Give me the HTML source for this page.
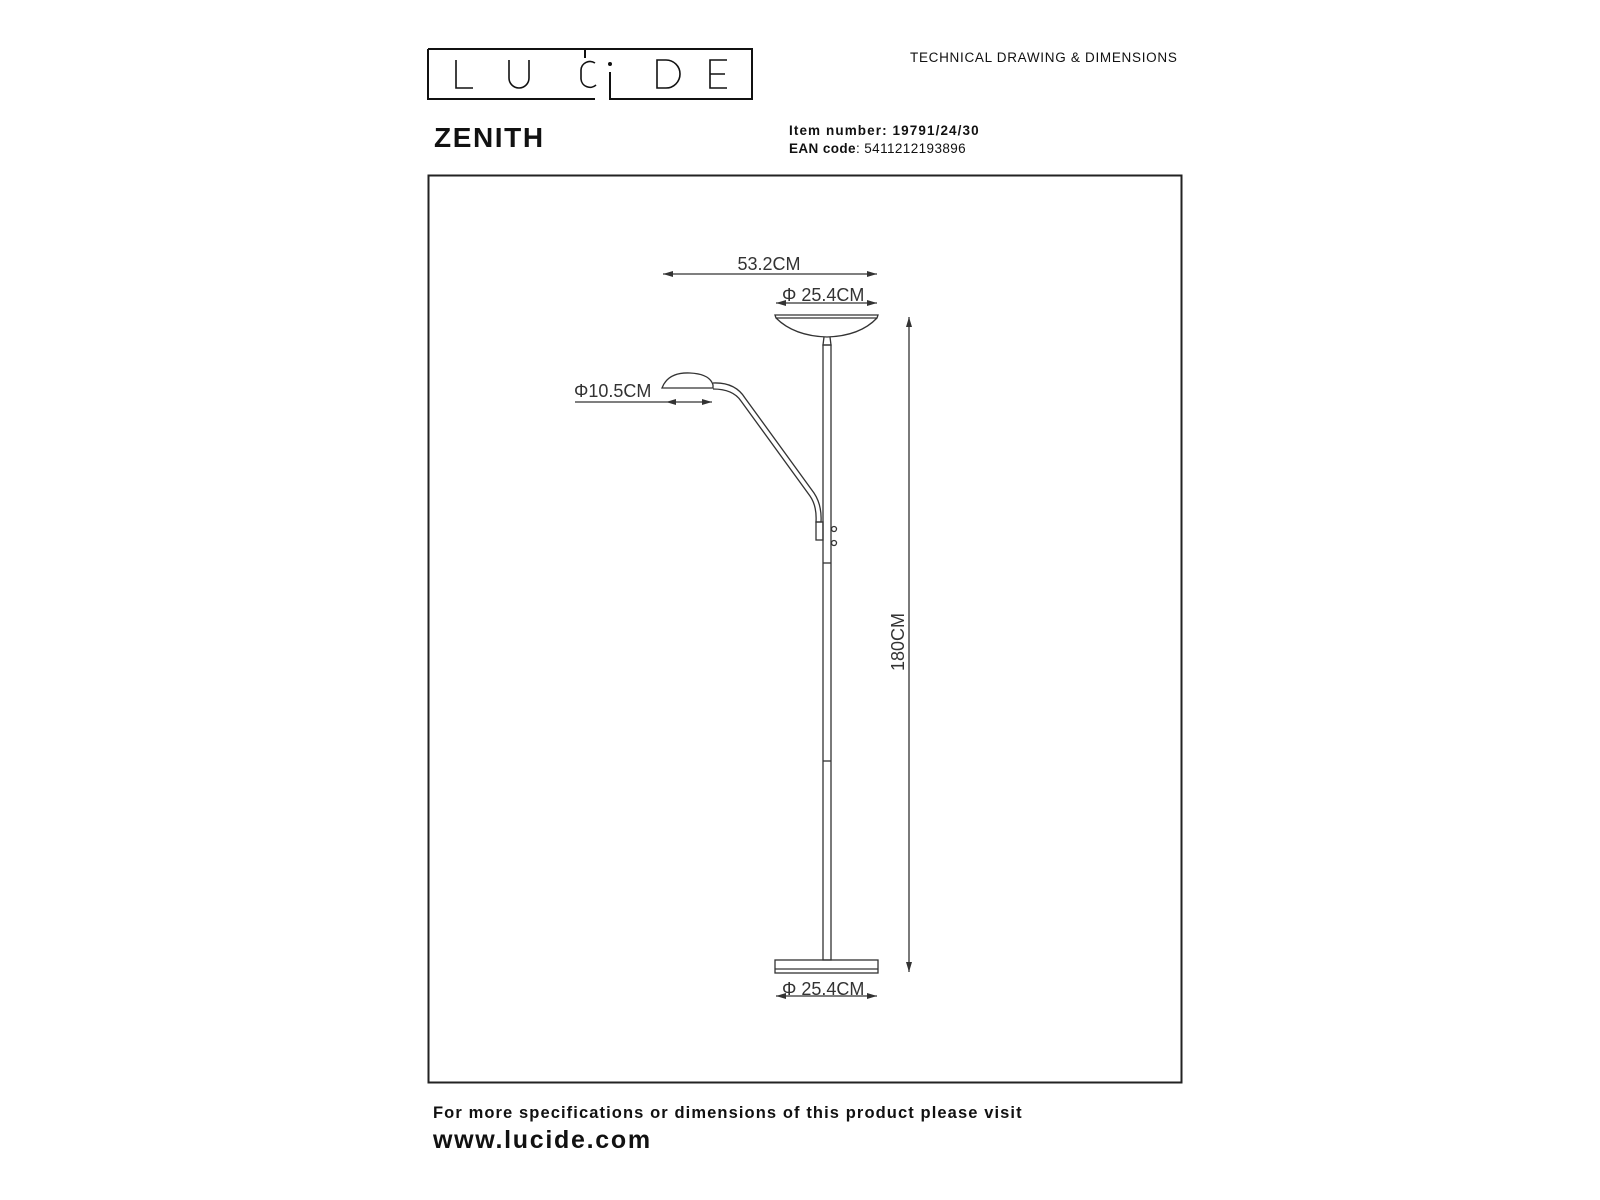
<!DOCTYPE html>
<html><head><meta charset="utf-8"><style>
body{margin:0;background:#fff;width:1600px;height:1200px;overflow:hidden;position:relative;font-family:"Liberation Sans",sans-serif;color:#111}
.t{position:absolute;white-space:nowrap}
</style></head><body>
<svg width="1600" height="1200" style="position:absolute;left:0;top:0" xmlns="http://www.w3.org/2000/svg">
<g fill="none" stroke="#111" stroke-width="2">
<path d="M428 49 H752 V99 H610 V72"/>
<path d="M595 99 H428 V49"/>
<path d="M585 49 V58"/>
</g>
<g fill="none" stroke="#111" stroke-width="1.6">
<path d="M456 60 V88 H473"/>
<path d="M509 60 V78 a10 10 0 0 0 20 0 V60"/>
<path d="M595 63 a9 9 0 0 0 -14 7 V79 a9 9 0 0 0 15 6"/>
<circle cx="610" cy="64" r="1.2" fill="#111"/>
<path d="M657 60 V88 H666 a14 14 0 0 0 0 -28 Z"/>
<path d="M727 60 H710 V88 H727 M710 74 H725"/>
</g>
<rect x="428.5" y="175.5" width="753" height="907" fill="none" stroke="#222" stroke-width="2"/>
<g fill="none" stroke="#333" stroke-width="1.3">
<line x1="663" y1="274" x2="877" y2="274"/>
<line x1="776" y1="303" x2="877" y2="303"/>
<line x1="909" y1="317" x2="909" y2="972"/>
<line x1="776" y1="996" x2="877" y2="996"/>
<line x1="575" y1="402" x2="712" y2="402"/>
<path d="M775 315 H878 L877 318 Q860 336 827 337 Q794 336 776 318 Z"/>
<line x1="776" y1="318" x2="877" y2="318"/>
<path d="M824 337 L823 345 H831 L830 337"/>
<rect x="823" y="345" width="8" height="615"/>
<line x1="823" y1="563" x2="831" y2="563"/>
<line x1="823" y1="761" x2="831" y2="761"/>
<rect x="775" y="960" width="103" height="13"/>
<line x1="775" y1="969" x2="878" y2="969"/>
<path d="M662 388 Q668 372 690 373 Q710 374 713 385 L713 388 Z"/>
<path d="M713 383 Q735 382 745 398 L814 493 Q822 505 821 522 L816 522 Q817 506 810 496 L741 401 Q733 389 713 389"/>
<rect x="816" y="522" width="7" height="18"/>
<circle cx="834" cy="529" r="2.5"/>
<circle cx="834" cy="543" r="2.5"/>
</g>
<g fill="#333">
<path d="M663 274 l10 -3 v6 z"/><path d="M877 274 l-10 -3 v6 z"/>
<path d="M877 303 l-10 -3 v6 z"/><path d="M776 303 l10 -3 v6 z"/>
<path d="M909 317 l-3 10 h6 z"/><path d="M909 972 l-3 -10 h6 z"/>
<path d="M776 996 l10 -3 v6 z"/><path d="M877 996 l-10 -3 v6 z"/>
<path d="M666 402 l10 -3 v6 z"/><path d="M712 402 l-10 -3 v6 z"/>
</g>
<g font-family="Liberation Sans,sans-serif" font-size="18" fill="#333">
<text x="769" y="270" text-anchor="middle">53.2CM</text>
<text x="782" y="301">Φ 25.4CM</text>
<text x="574" y="397">Φ10.5CM</text>
<text x="782" y="995">Φ 25.4CM</text>
<text transform="translate(904 642) rotate(-90)" text-anchor="middle">180CM</text>
</g>
</svg>
<div class="t" style="left:910px;top:50px;font-size:13.5px;letter-spacing:0.7px">TECHNICAL DRAWING &amp; DIMENSIONS</div>
<div class="t" style="left:434px;top:122px;font-size:28px;font-weight:bold;letter-spacing:1.6px">ZENITH</div>
<div class="t" style="left:789px;top:123px;font-size:13.5px;font-weight:bold;letter-spacing:1.1px">Item number: 19791/24/30</div>
<div class="t" style="left:789px;top:141px;font-size:13.5px;letter-spacing:0.4px"><b>EAN code</b>: 5411212193896</div>
<div class="t" style="left:433px;top:1104px;font-size:16.5px;font-weight:bold;letter-spacing:1.1px">For more specifications or dimensions of this product please visit</div>
<div class="t" style="left:433px;top:1126px;font-size:25px;font-weight:bold;letter-spacing:1.7px">www.lucide.com</div>
</body></html>
